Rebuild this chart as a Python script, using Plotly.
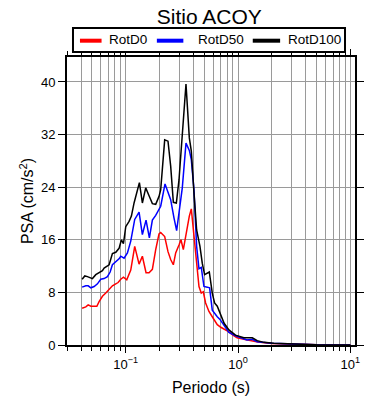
import plotly.graph_objects as go

# ---- data ----
period_d100 = [0.0409, 0.0432, 0.0456, 0.0505, 0.0541, 0.0579, 0.062, 0.0642, 0.0711, 0.0761,
               0.0815, 0.0872, 0.0915, 0.0954, 0.1, 0.1071, 0.1123, 0.1186, 0.1253, 0.1323,
               0.1406, 0.1506, 0.1612, 0.1726, 0.1848, 0.1978, 0.2047, 0.2222, 0.2378, 0.2512,
               0.2653, 0.2821, 0.2979, 0.3256, 0.3438, 0.3681, 0.3835, 0.405, 0.4277, 0.4577,
               0.4803, 0.5037, 0.532, 0.5544, 0.5893, 0.618, 0.6529, 0.6897, 0.7022, 0.7513,
               0.8292, 0.9487, 1.1256, 1.3392, 1.4804, 1.6964, 2.0833, 3.36, 5.0, 10.0]
psa_d100 = [10.0, 10.5, 10.4, 10.1, 10.7, 11.0, 11.3, 11.7, 12.2, 13.9,
            14.1, 14.7, 16.0, 15.4, 18.0, 18.8, 19.6, 21.6, 23.4, 24.7,
            21.6, 23.9, 22.7, 21.5, 21.4, 22.6, 23.6, 31.2, 31.0, 27.2,
            21.7, 21.6, 25.1, 33.8, 39.7, 31.5, 29.5, 23.1, 17.5, 15.0,
            12.4, 10.7, 10.9, 11.1, 7.9, 6.4, 5.9, 4.8, 4.6, 3.3,
            2.3, 1.5, 1.1, 1.1, 0.66, 0.4, 0.25, 0.1, 0.04, 0.01]

period_d50 = [0.0409, 0.0441, 0.0463, 0.0489, 0.0523, 0.056, 0.0599, 0.0642, 0.0687, 0.0726,
              0.0761, 0.0815, 0.0872, 0.0903, 0.0966, 0.1035, 0.1108, 0.1202, 0.1314, 0.1406,
              0.1516, 0.1623, 0.1726, 0.1848, 0.1978, 0.2047, 0.2237, 0.2378, 0.2512, 0.269,
              0.2839, 0.2979, 0.3188, 0.3438, 0.3681, 0.3835, 0.405, 0.4277, 0.4487, 0.4703,
              0.4969, 0.532, 0.558, 0.5893, 0.618, 0.6529, 0.6897, 0.7513, 0.8292, 0.9487,
              1.1256, 1.2, 1.3392, 1.4804, 2.0, 3.36, 5.0, 10.0]
psa_d50 = [8.8, 9.0, 9.0, 8.7, 8.9, 9.3, 10.0, 10.1, 10.4, 11.1,
           12.2, 12.6, 13.1, 13.5, 13.2, 14.0, 15.8, 19.1, 20.2, 16.8,
           19.0, 16.3, 19.0, 19.7, 20.7, 21.1, 24.5, 23.1, 22.1, 19.3,
           17.4, 20.1, 23.9, 30.7, 29.6, 28.2, 23.6, 15.0, 11.6, 11.8,
           8.9, 8.8, 8.7, 5.3, 4.8, 4.3, 3.9, 2.9, 1.9, 1.4,
           0.91, 0.76, 0.86, 0.51, 0.25, 0.08, 0.03, 0.01]

period_d0 = [0.0409, 0.0441, 0.0463, 0.0489, 0.0523, 0.0553, 0.0579, 0.062, 0.0664, 0.0711,
             0.0761, 0.0815, 0.0855, 0.0903, 0.0954, 0.1021, 0.1108, 0.1202, 0.1253, 0.1314,
             0.1406, 0.1516, 0.1612, 0.1726, 0.1848, 0.1978, 0.2047, 0.2222, 0.2378, 0.2512,
             0.2653, 0.2783, 0.2979, 0.3102, 0.3256, 0.3438, 0.3681, 0.3835, 0.405, 0.4277,
             0.4487, 0.4703, 0.4902, 0.5141, 0.5505, 0.5893, 0.6529, 0.7022, 0.7513, 0.8292,
             0.9, 0.98, 1.1256, 1.34, 1.5, 2.0, 3.36, 5.0, 10.0]
psa_d0 = [5.6, 5.8, 6.1, 5.9, 5.9, 5.9, 6.6, 7.4, 7.9, 8.5,
          9.0, 9.3, 9.5, 10.0, 10.3, 9.9, 11.4, 15.0, 13.9, 12.3,
          13.5, 11.0, 11.0, 11.5, 14.5, 16.9, 17.1, 16.5, 14.2, 13.0,
          12.2, 14.0, 15.2, 16.0, 14.5, 16.8, 19.6, 20.7, 16.8, 13.0,
          8.9, 7.9, 8.1, 6.4, 5.1, 4.3, 3.1, 2.7, 2.4, 2.0,
          1.5, 1.1, 0.86, 0.6, 0.45, 0.22, 0.07, 0.03, 0.01]

series_names = ["RotD0", "RotD50", "RotD100"]
series_colors = ["#ff0000", "#0000ff", "#000000"]

y_ticks = [0, 8, 16, 24, 32, 40]
x_major = [0.1, 1, 10]
x_major_text = ["10<sup>−1</sup>", "10<sup>0</sup>", "10<sup>1</sup>"]
x_minor = [m * d for d in (0.01, 0.1, 1) for m in range(2, 10) if 0.03 <= m * d <= 11]

fig = go.Figure()
data = [(period_d0, psa_d0), (period_d50, psa_d50), (period_d100, psa_d100)]
for (xs, ys), name, col in zip(data, series_names, series_colors):
    fig.add_trace(go.Scatter(x=xs, y=ys, mode="lines", name=name, showlegend=False,
                             line=dict(color=col, width=1.5)))

# ---- legend box drawn above the plot (paper coordinates) ----
key_x = [(0.045, 0.12), (0.312, 0.404), (0.645, 0.74)]
label_x = [0.139, 0.448, 0.760]
key_y = 1.0566
fig.add_shape(type="rect", xref="paper", yref="paper", x0=0.0208, x1=0.9653,
              y0=1.0174, y1=1.1007, line=dict(color="black", width=2),
              fillcolor="white", layer="above")
for (x0, x1), lx, name, col in zip(key_x, label_x, series_names, series_colors):
    fig.add_shape(type="line", xref="paper", yref="paper", x0=x0, x1=x1,
                  y0=key_y, y1=key_y, line=dict(color=col, width=4))
    fig.add_annotation(x=lx, y=1.062, xref="paper", yref="paper", text=name,
                       showarrow=False, xanchor="left", yanchor="middle",
                       font=dict(size=13.5, color="black"))

font_family = "Liberation Sans, Arial, sans-serif"
fig.update_layout(
    width=382, height=392,
    margin=dict(l=59, r=35, t=49, b=55, autoexpand=False),
    paper_bgcolor="white", plot_bgcolor="white",
    font=dict(family=font_family, color="black", size=13),
    title=dict(text="Sitio ACOY", x=0.527, xanchor="center", xref="container",
               y=0.978, yanchor="middle", yref="container",
               font=dict(size=21)),
    showlegend=False,
    xaxis=dict(type="log", range=[-1.523, 1.041],
               tickvals=x_major, ticktext=x_major_text,
               ticks="outside", ticklen=6, tickcolor="black", tickwidth=1,
               showgrid=True, gridcolor="#9a9a9a", gridwidth=1,
               minor=dict(tickvals=x_minor, ticks="outside", ticklen=4,
                          tickcolor="black", showgrid=True, gridcolor="#9a9a9a", gridwidth=1),
               showline=True, linecolor="black", linewidth=2, mirror="allticks",
               title=dict(text="Periodo (s)", font=dict(size=16), standoff=11),
               tickfont=dict(size=13), zeroline=False),
    yaxis=dict(range=[0, 43.8], tickvals=y_ticks,
               ticks="outside", ticklen=7, tickcolor="black", tickwidth=1,
               showgrid=True, gridcolor="#9a9a9a", gridwidth=1,
               showline=True, linecolor="black", linewidth=2, mirror="allticks",
               title=dict(text="PSA (cm/s<sup>2</sup>)", font=dict(size=16), standoff=3),
               tickfont=dict(size=13), zeroline=False),
)

fig.write_html("out.html")
